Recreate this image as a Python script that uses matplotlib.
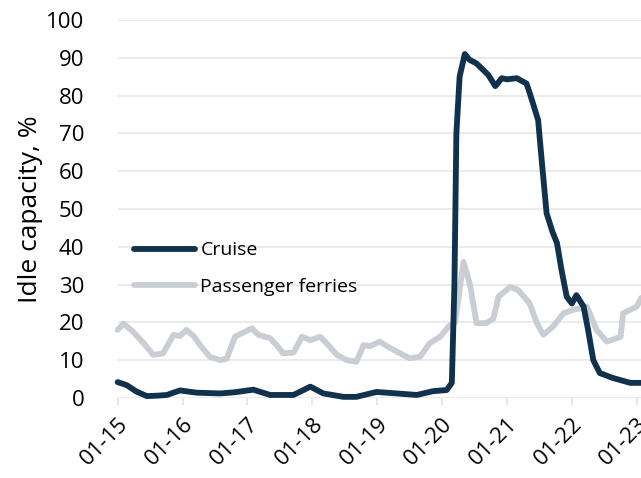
import matplotlib
matplotlib.use("Agg")
import matplotlib.pyplot as plt

# decimal years, values
cruise_t = [2015.0, 2015.14, 2015.29, 2015.45, 2015.6, 2015.76, 2015.96, 2016.22, 2016.4,
            2016.58, 2016.8, 2017.09, 2017.35, 2017.71, 2017.97, 2018.17, 2018.48, 2018.68,
            2018.99, 2019.3, 2019.61, 2019.86, 2020.07, 2020.15, 2020.19, 2020.22, 2020.27,
            2020.35, 2020.42, 2020.53, 2020.62, 2020.71, 2020.82, 2020.92, 2021.0, 2021.15,
            2021.3, 2021.35, 2021.48, 2021.53, 2021.61, 2021.7, 2021.77, 2021.84, 2021.92,
            2022.0, 2022.07, 2022.18, 2022.25, 2022.33, 2022.43, 2022.63, 2022.9, 2023.07]
cruise_v = [4.2, 3.4, 1.7, 0.5, 0.6, 0.8, 2.0, 1.4, 1.3, 1.2, 1.5, 2.2, 0.8, 0.8, 3.0, 1.2,
            0.3, 0.3, 1.6, 1.2, 0.8, 1.8, 2.1, 4.0, 30.0, 70.0, 85.0, 91.0, 89.5, 88.5, 87.0,
            85.5, 82.5, 84.6, 84.3, 84.6, 83.2, 80.7, 73.5, 63.8, 48.9, 44.0, 41.0, 33.9, 26.8,
            25.0, 27.2, 24.2, 18.0, 10.0, 6.6, 5.3, 4.0, 4.0]

ferry_t = [2015.0, 2015.09, 2015.24, 2015.4, 2015.55, 2015.7, 2015.86, 2015.96, 2016.06,
           2016.17, 2016.27, 2016.42, 2016.58, 2016.68, 2016.81, 2016.91, 2017.07, 2017.17,
           2017.35, 2017.45, 2017.55, 2017.71, 2017.84, 2017.97, 2018.12, 2018.22, 2018.38,
           2018.53, 2018.68, 2018.79, 2018.89, 2019.04, 2019.15, 2019.3, 2019.5, 2019.66,
           2019.81, 2019.97, 2020.1, 2020.2, 2020.33, 2020.43, 2020.53, 2020.68, 2020.79,
           2020.87, 2021.05, 2021.17, 2021.35, 2021.46, 2021.56, 2021.71, 2021.87, 2022.02,
           2022.23, 2022.38, 2022.54, 2022.75, 2022.79, 2023.0, 2023.07]
ferry_v = [18.0, 19.7, 17.5, 14.5, 11.4, 11.8, 16.7, 16.4, 18.0, 16.4, 14.0, 10.9, 10.0, 10.4,
           16.2, 17.1, 18.4, 16.7, 15.8, 14.0, 11.8, 12.0, 16.2, 15.3, 16.2, 14.5, 11.4, 10.0,
           9.6, 14.0, 13.7, 14.9, 13.7, 12.3, 10.5, 10.9, 14.5, 16.2, 18.9, 20.0, 36.0, 30.0,
           19.8, 19.8, 21.0, 26.8, 29.4, 28.6, 25.0, 19.8, 16.7, 18.9, 22.4, 23.3, 24.2, 18.0,
           14.9, 16.2, 22.4, 24.2, 26.5]

years = list(range(2015, 2024))
year_labels = [f"01-{y % 100:02d}" for y in years]

plt.rcParams["font.family"] = ["Open Sans", "DejaVu Sans"]

fig = plt.figure(figsize=(6.41, 4.78), dpi=100)
ax = fig.add_axes([0.1835, 0.1674, 0.8165, 0.7908])

ax.plot(ferry_t, ferry_v, color="#c9ced4", lw=4.2, solid_capstyle="round",
        label="Passenger ferries", clip_on=False, zorder=3)
ax.plot(cruise_t, cruise_v, color="#10324d", lw=4.2, solid_capstyle="round",
        label="Cruise", clip_on=False, zorder=4)

ax.set_xlim(2015, 2023.065)
ax.set_ylim(0, 100)
ax.set_yticks(range(0, 101, 10))
ax.set_xticks(years)
ax.set_xticklabels(year_labels, rotation=45, ha="right", rotation_mode="anchor")
ax.tick_params(axis="y", length=0, labelsize=16, pad=24)
ax.tick_params(axis="x", length=5, width=1.2, color="#e3e3e3", labelsize=16, pad=6)
ax.grid(axis="y", color="#e8e8e8", lw=1.2)
ax.set_axisbelow(True)
for s in ax.spines.values():
    s.set_visible(False)
ax.set_ylabel("Idle capacity, %", fontsize=19, labelpad=2)

h, l = ax.get_legend_handles_labels()
ax.legend(h[::-1], l[::-1], loc="center left", bbox_to_anchor=(0.032, 0.342),
          frameon=False, fontsize=14, handlelength=3.1, handletextpad=0.3,
          labelspacing=0.95, borderaxespad=0, borderpad=0)

fig.savefig("out.png", dpi=100)
